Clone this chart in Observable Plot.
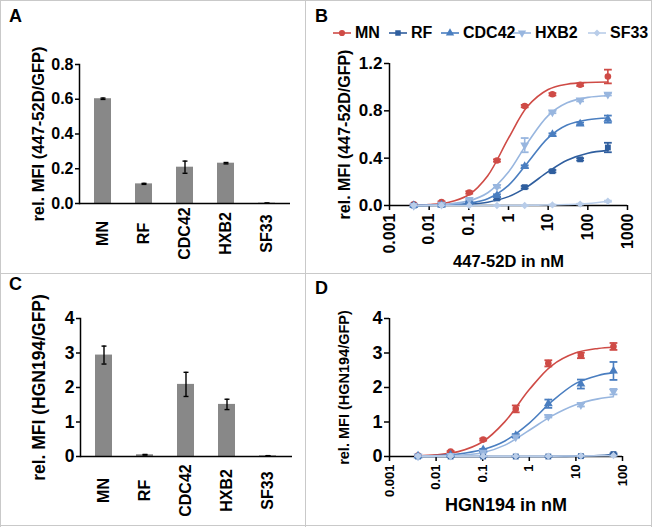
<!DOCTYPE html>
<html>
<head>
<meta charset="utf-8">
<script src="https://cdn.jsdelivr.net/npm/d3@7"></script>
<script src="https://cdn.jsdelivr.net/npm/@observablehq/plot@0.6"></script>
<style>
  body { margin: 0; background: #fff; }
  #fig { position: relative; width: 652px; height: 527px; overflow: hidden; background: #fff;
         font-family: "Liberation Sans", Arial, sans-serif; font-weight: bold; color: #000; }
  .panel { position: absolute; }
  .overlay { position: absolute; left: 0; top: 0; }
  .line { position: absolute; background: #c9c9c9; z-index: 5; }
  .letter { position: absolute; font-size: 18px; line-height: 18px; font-weight: bold; z-index: 6; }
  .legend { position: absolute; top: 24px; z-index: 6; font-size: 16px; line-height: 18px; white-space: nowrap; display: flex; align-items: center; }
  .legend svg { display: block; margin-right: 4px; }
</style>
</head>
<body>
<div id="fig"></div>
<script>
// ---------------- DATA ----------------
const strains = ["MN", "RF", "CDC42", "HXB2", "SF33"];
const strainColors = ["#cf4b46", "#2f5e9e", "#4a7ec0", "#98b6df", "#b9cde9"];
const strainSymbols = ["circle", "square", "triangle", "triangle", "diamond2"];

// Panel A: bars (447-52D)
const barA = [0.603, 0.113, 0.209, 0.232, 0.002];
const barAErr = [0.004, 0.003, 0.035, 0.004, 0.001];
// Panel C: bars (HGN194)
const barC = [2.94, 0.05, 2.09, 1.51, 0.02];
const barCErr = [0.26, 0.01, 0.35, 0.15, 0.005];

// Panel B: titration 447-52D (nM)
const concB = [0.004096, 0.02048, 0.1024, 0.512, 2.56, 12.8, 64, 320];
const bMN    = [0.01, 0.03, 0.11, 0.38, 0.84, 0.94, 1.02, 1.09];
const bMNErr = [0.005, 0.005, 0.01, 0.01, 0.01, 0.01, 0.01, 0.058];
const bRF    = [0.0, 0.005, 0.02, 0.06, 0.155, 0.29, 0.39, 0.49];
const bRFErr = [0.005, 0.005, 0.005, 0.01, 0.01, 0.01, 0.01, 0.04];
const bCDC42    = [0.0, 0.005, 0.03, 0.085, 0.33, 0.60, 0.69, 0.73];
const bCDC42Err = [0.005, 0.005, 0.005, 0.01, 0.01, 0.01, 0.01, 0.03];
const bHXB2    = [0.0, 0.01, 0.05, 0.16, 0.51, 0.79, 0.89, 0.94];
const bHXB2Err = [0.005, 0.005, 0.005, 0.01, 0.06, 0.01, 0.01, 0.01];
const bSF33    = [0.0, 0.0, 0.0, 0.0, 0.0, 0.005, 0.012, 0.036];
const bSF33Err = [0.003, 0.003, 0.003, 0.003, 0.003, 0.003, 0.003, 0.005];
// fitted curves
const curveXB = [0.004, 0.01, 0.03, 0.1, 0.3, 1, 3, 10, 30, 100, 320];
const cMNB    = [0.003, 0.008, 0.026, 0.091, 0.252, 0.569, 0.836, 0.980, 1.025, 1.040, 1.044];
const cRFB    = [0.001, 0.001, 0.004, 0.011, 0.028, 0.075, 0.160, 0.286, 0.383, 0.442, 0.466];
const cCDC42B = [0.001, 0.002, 0.006, 0.019, 0.057, 0.170, 0.360, 0.572, 0.680, 0.725, 0.739];
const cHXB2B  = [0.002, 0.004, 0.012, 0.039, 0.108, 0.283, 0.529, 0.760, 0.868, 0.914, 0.928];
const cSF33B  = [0.0, 0.0, 0.0, 0.0, 0.0, 0.001, 0.002, 0.004, 0.008, 0.017, 0.036];

// Panel D: titration HGN194 (nM)
const concD = [0.004096, 0.02048, 0.1024, 0.512, 2.56, 12.8, 64];
const dMN    = [0.03, 0.14, 0.49, 1.38, 2.70, 2.93, 3.19];
const dMNErr = [0.01, 0.02, 0.03, 0.10, 0.09, 0.08, 0.10];
const dRF    = [0.0, 0.0, 0.0, 0.0, 0.0, 0.01, 0.07];
const dRFErr = [0.01, 0.01, 0.01, 0.01, 0.01, 0.01, 0.02];
const dCDC42    = [0.02, 0.05, 0.20, 0.61, 1.53, 2.10, 2.48];
const dCDC42Err = [0.01, 0.01, 0.02, 0.04, 0.12, 0.13, 0.26];
const dHXB2    = [0.01, 0.03, 0.12, 0.56, 1.16, 1.50, 1.88];
const dHXB2Err = [0.01, 0.01, 0.01, 0.03, 0.03, 0.05, 0.08];
const dSF33    = [0.01, 0.01, 0.01, 0.01, 0.01, 0.02, 0.03];
const dSF33Err = [0.01, 0.01, 0.01, 0.01, 0.01, 0.01, 0.01];
const curveXD = [0.004, 0.01, 0.03, 0.1, 0.3, 1, 3, 10, 30, 64];
const cMND    = [0.02, 0.049, 0.141, 0.427, 1.01, 1.939, 2.63, 3.005, 3.132, 3.168];
const cRFD    = [0.0, 0.0, 0.0, 0.0, 0.0, 0.0, 0.002, 0.01, 0.03, 0.06];
const cCDC42D = [0.01, 0.025, 0.07, 0.20, 0.45, 0.97, 1.59, 2.12, 2.35, 2.43];
const cHXB2D  = [0.005, 0.012, 0.035, 0.11, 0.33, 0.76, 1.17, 1.50, 1.67, 1.73];
const cSF33D  = [0.01, 0.01, 0.01, 0.01, 0.01, 0.01, 0.012, 0.015, 0.02, 0.025];

// tick labels
const ticksAY = [0, 0.2, 0.4, 0.6, 0.8];
const ticksBY = [0, 0.4, 0.8, 1.2];
const ticksCY = [0, 1, 2, 3, 4];
const ticksDY = [0, 1, 2, 3, 4];
const ticksBX = [0.001, 0.01, 0.1, 1, 10, 100, 1000];
const tickLabelsBX = ["0.001", "0.01", "0.1", "1", "10", "100", "1000"];
const ticksDX = [0.001, 0.01, 0.1, 1, 10, 100];
const tickLabelsDX = ["0.001", "0.01", "0.1", "1", "10", "100"];

const yLabelA = "rel. MFI (447-52D/GFP)";
const yLabelB = "rel. MFI (447-52D/GFP)";
const xLabelB = "447-52D in nM";
const yLabelC = "rel. MFI (HGN194/GFP)";
const yLabelD = "rel. MFI (HGN194/GFP)";
const xLabelD = "HGN194 in nM";

// ---------------- BUILD ----------------
const FONT = "'Liberation Sans', Arial, sans-serif";
const STYLE = { fontFamily: FONT, fontWeight: "bold", fontSize: "16px", background: "transparent", color: "#000" };
const cap = { draw(ctx, size) { const w = Math.sqrt(size) / 2; ctx.moveTo(-w, 0); ctx.lineTo(w, 0); } };

function barRows(vals, errs) { return strains.map((s, i) => ({ strain: s, v: vals[i], e: errs[i] })); }
function pointRows(conc, series, errs) {
  const out = [];
  series.forEach((vals, k) => vals.forEach((v, j) => out.push({ strain: strains[k], x: conc[j], y: v, e: errs[k][j] })));
  return out;
}
function curveRows(xs, series) {
  const out = [];
  series.forEach((vals, k) => vals.forEach((v, j) => out.push({ strain: strains[k], x: xs[j], y: v })));
  return out;
}
function frameOpts(opts) {
  return { width: opts.width, height: opts.height, marginLeft: opts.ml, marginRight: opts.mr, marginTop: opts.mt, marginBottom: opts.mb, style: STYLE };
}
// vertical labels anchored to the frame's bottom-left, offset by the main chart's own x scale
function verticalLabels(xScale, values, texts, opts, anchor, dy, size) {
  const half = (xScale.bandwidth || 0) / 2;
  return values.map((v, i) => Plot.text([texts[i]], {
    text: d => d, frameAnchor: "bottom-left", rotate: -90,
    textAnchor: anchor, lineAnchor: "middle",
    dx: xScale.apply(v) + half - opts.ml, dy, fontSize: size
  }));
}
function yLabelMark(opts) {
  return Plot.text([opts.ylabel], { text: d => d, frameAnchor: "left", rotate: -90, textAnchor: "middle", lineAnchor: "top", dx: opts.ylabDx, fontSize: opts.ylabFont });
}

function barPanel(rows, opts) {
  const main = Plot.plot({
    ...frameOpts(opts),
    x: { domain: strains, paddingInner: 0.58, paddingOuter: 0.35, axis: null },
    y: { domain: opts.ydomain },
    marks: [
      Plot.barY(rows, { x: "strain", y: "v", fill: "#888888" }),
      Plot.ruleX(rows, { x: "strain", y1: d => d.v - d.e, y2: d => d.v + d.e, stroke: "#000", strokeWidth: 1.4 }),
      Plot.dot(rows, { x: "strain", y: d => d.v + d.e, symbol: cap, r: 2.8, stroke: "#000", fill: "none", strokeWidth: 1.4 }),
      Plot.dot(rows, { x: "strain", y: d => d.v - d.e, symbol: cap, r: 2.8, stroke: "#000", fill: "none", strokeWidth: 1.4 }),
      Plot.ruleY([0], { stroke: "#000", strokeWidth: 1.5 }),
      Plot.frame({ anchor: "left", stroke: "#000", strokeWidth: 1.5 }),
      Plot.axisY({ ticks: opts.yticks, tickFormat: opts.yfmt, tickSize: 4, tickPadding: 2, strokeWidth: 1.5, label: null, fontSize: opts.ytickFont })
    ]
  });
  const labels = Plot.plot({
    ...frameOpts(opts),
    x: { axis: null }, y: { axis: null },
    marks: [
      ...verticalLabels(main.scale("x"), strains, strains, opts, "middle", opts.catDy, 16),
      yLabelMark(opts)
    ]
  });
  return [main, labels];
}

function curvePanel(points, curves, opts) {
  const main = Plot.plot({
    ...frameOpts(opts),
    x: { type: "log", domain: opts.xdomain },
    y: { domain: opts.ydomain },
    color: { domain: strains, range: strainColors },
    symbol: { domain: strains, range: strainSymbols },
    marks: [
      Plot.ruleY([0], { stroke: "#000", strokeWidth: 1.5 }),
      Plot.ruleX([opts.xdomain[0]], { stroke: "#000", strokeWidth: 1.5 }),
      Plot.axisY({ ticks: opts.yticks, tickFormat: opts.yfmt, tickSize: 5, tickPadding: 2, strokeWidth: 1.5, label: null, fontSize: opts.ytickFont }),
      Plot.axisX({ ticks: opts.xticks, tickFormat: () => "", tickSize: 5, strokeWidth: 1.5, label: null }),
      Plot.line(curves, { x: "x", y: "y", z: "strain", stroke: "strain", curve: "catmull-rom", strokeWidth: 1.6 }),
      Plot.ruleX(points, { x: "x", y1: d => d.y - d.e, y2: d => d.y + d.e, stroke: "strain", strokeWidth: 1.6 }),
      Plot.dot(points, { x: "x", y: d => d.y + d.e, symbol: cap, r: 4.4, stroke: "strain", fill: "none", strokeWidth: 1.8 }),
      Plot.dot(points, { x: "x", y: d => d.y - d.e, symbol: cap, r: 4.4, stroke: "strain", fill: "none", strokeWidth: 1.8 }),
      Plot.dot(points, { x: "x", y: "y", symbol: "strain", fill: "strain", r: 3.3, rotate: d => d.strain === "HXB2" ? 180 : 0 }),
      Plot.text([opts.xlabel], { text: d => d, frameAnchor: "bottom", lineAnchor: "bottom", dy: opts.xlabDy, fontSize: opts.xlabFont })
    ]
  });
  const labels = Plot.plot({
    ...frameOpts(opts),
    x: { axis: null }, y: { axis: null },
    marks: [
      ...verticalLabels(main.scale("x"), opts.xticks, opts.xtickLabels, opts, "end", 8, opts.xtickFont),
      yLabelMark(opts)
    ]
  });
  return [main, labels];
}

const fig = document.getElementById("fig");
function place([main, labels], left, top) {
  const wrap = document.createElement("div");
  wrap.className = "panel";
  wrap.style.left = left + "px";
  wrap.style.top = top + "px";
  wrap.appendChild(main);
  const ov = document.createElement("div");
  ov.className = "overlay";
  ov.appendChild(labels);
  wrap.appendChild(ov);
  fig.appendChild(wrap);
}

const fmt1 = d3.format(".1f");
const fmt0 = d3.format("d");

place(barPanel(barRows(barA, barAErr), {
  width: 305, height: 273, ml: 79, mr: 15, mt: 64, mb: 70,
  ydomain: [0, 0.8], yticks: ticksAY, yfmt: fmt1, ytickFont: 16,
  catDy: 30, ylabel: yLabelA, ylabDx: -47, ylabFont: 16.5
}), 0, 0);

place(curvePanel(
  pointRows(concB, [bMN, bRF, bCDC42, bHXB2, bSF33], [bMNErr, bRFErr, bCDC42Err, bHXB2Err, bSF33Err]),
  curveRows(curveXB, [cMNB, cRFB, cCDC42B, cHXB2B, cSF33B]), {
  width: 347, height: 273, ml: 84, mr: 25, mt: 63, mb: 68,
  xdomain: [0.001, 1000], ydomain: [0, 1.2], yticks: ticksBY, yfmt: fmt1, ytickFont: 17,
  xticks: ticksBX, xtickLabels: tickLabelsBX, xtickFont: 16,
  xlabel: xLabelB, xlabDy: 61, xlabFont: 16.5, ylabel: yLabelB, ylabDx: -51, ylabFont: 16
}), 305, 0);

place(barPanel(barRows(barC, barCErr), {
  width: 305, height: 254, ml: 80, mr: 13, mt: 45, mb: 71,
  ydomain: [0, 4], yticks: ticksCY, yfmt: fmt0, ytickFont: 17.5,
  catDy: 34, ylabel: yLabelC, ylabDx: -48, ylabFont: 17.5
}), 0, 273);

place(curvePanel(
  pointRows(concD, [dMN, dRF, dCDC42, dHXB2, dSF33], [dMNErr, dRFErr, dCDC42Err, dHXB2Err, dSF33Err]),
  curveRows(curveXD, [cMND, cRFD, cCDC42D, cHXB2D, cSF33D]), {
  width: 347, height: 254, ml: 84, mr: 30, mt: 45, mb: 71,
  xdomain: [0.001, 100], ydomain: [0, 4], yticks: ticksDY, yfmt: fmt0, ytickFont: 18,
  xticks: ticksDX, xtickLabels: tickLabelsDX, xtickFont: 13,
  xlabel: xLabelD, xlabDy: 54, xlabFont: 18, ylabel: yLabelD, ylabDx: -51, ylabFont: 14.5
}), 305, 273);

// Legend for panel B
const legendLefts = [333, 389, 441, 513, 588];
strains.forEach((s, i) => {
  const item = d3.select(fig).append("div").attr("class", "legend").style("left", legendLefts[i] + "px");
  const svg = item.append("svg").attr("width", 18).attr("height", 10);
  svg.append("line").attr("x1", 0).attr("x2", 18).attr("y1", 5).attr("y2", 5)
    .attr("stroke", strainColors[i]).attr("stroke-width", 1.6);
  const sym = { circle: d3.symbolCircle, square: d3.symbolSquare, triangle: d3.symbolTriangle, diamond2: d3.symbolDiamond2 }[strainSymbols[i]];
  svg.append("path").attr("d", d3.symbol(sym, Math.PI * 3.1 * 3.1)())
    .attr("transform", `translate(9,5) rotate(${s === "HXB2" ? 180 : 0})`)
    .attr("fill", strainColors[i]);
  item.append("span").text(s);
});

// Panel letters
[["A", 9, 7], ["B", 315, 7], ["C", 9, 275], ["D", 315, 279]].forEach(([t, x, y]) => {
  d3.select(fig).append("div").attr("class", "letter").style("left", x + "px").style("top", y + "px").text(t);
});

// Frame lines
[[0, 0, 652, 1], [0, 525, 652, 1], [0, 0, 1, 527], [651, 0, 1, 527], [305, 0, 1, 527], [0, 273, 652, 1]].forEach(([x, y, w, h]) => {
  d3.select(fig).append("div").attr("class", "line")
    .style("left", x + "px").style("top", y + "px").style("width", w + "px").style("height", h + "px");
});
</script>
</body>
</html>
